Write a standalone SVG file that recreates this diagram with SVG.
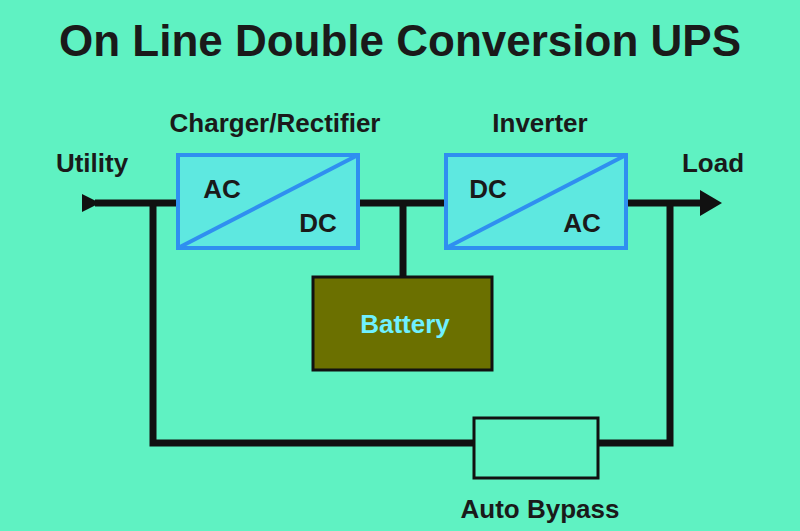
<svg xmlns="http://www.w3.org/2000/svg" width="800" height="531" viewBox="0 0 800 531">
<style>
text{font-family:"Liberation Sans Narrow","Liberation Sans",Arial,sans-serif;font-weight:bold;fill:#1a1a1a;text-anchor:middle}
.lbl{font-size:26px}
.conv{fill:#5ee8e0;stroke:#2f8ff0;stroke-width:4}
.w{stroke:#111;stroke-width:7;fill:none}
</style>
<rect width="800" height="531" fill="#5ff2c2"/>
<text x="400" y="56" font-size="44">On Line Double Conversion UPS</text>
<g id="connectors">
<path class="w" d="M95 203H705"/>
<path class="w" d="M153 203V443H670V203"/>
<path class="w" d="M403 203V277"/>
<polygon points="82,194 100,203 82,212" fill="#111"/>
<polygon points="700,190 722,203 700,216" fill="#111"/>
</g>
<g id="utility"><text class="lbl" x="92" y="172">Utility</text></g>
<g id="load"><text class="lbl" x="713" y="172">Load</text></g>
<g id="charger">
<rect class="conv" x="178" y="155" width="180" height="93"/>
<line x1="178" y1="248" x2="358" y2="155" stroke="#2f8ff0" stroke-width="4"/>
<text class="lbl" x="222" y="198">AC</text>
<text class="lbl" x="318" y="232">DC</text>
<text class="lbl" x="275" y="132">Charger/Rectifier</text>
</g>
<g id="inverter">
<rect class="conv" x="446" y="155" width="180" height="93"/>
<line x1="446" y1="248" x2="626" y2="155" stroke="#2f8ff0" stroke-width="4"/>
<text class="lbl" x="488" y="198">DC</text>
<text class="lbl" x="582" y="232">AC</text>
<text class="lbl" x="540" y="132">Inverter</text>
</g>
<g id="battery">
<rect x="313" y="277" width="179" height="93" fill="#6b7000" stroke="#111" stroke-width="3"/>
<text class="lbl" x="405" y="333" style="fill:#6ff0ff">Battery</text>
</g>
<g id="bypass">
<rect x="474" y="418" width="124" height="60" fill="#5ff2c2" stroke="#111" stroke-width="3"/>
<text class="lbl" x="540" y="518">Auto Bypass</text>
</g>
</svg>
